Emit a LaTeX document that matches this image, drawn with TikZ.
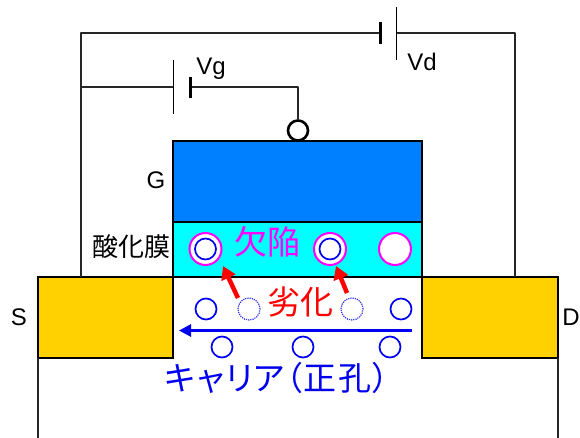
\documentclass[tikz,border=0pt]{standalone}
\usepackage{fontspec}
\setmainfont{Liberation Sans}
\newfontfamily\cjk{Noto Sans CJK JP}
\newfontfamily\cjkp[RawFeature=+palt,LetterSpace=4]{Noto Sans CJK JP}
\usetikzlibrary{arrows.meta}
\definecolor{gateblue}{RGB}{0,128,255}
\definecolor{padgold}{RGB}{255,209,0}
\definecolor{holeblue}{RGB}{0,0,240}
\definecolor{defectmag}{RGB}{255,0,255}
\definecolor{oxidecyan}{RGB}{0,255,255}
\definecolor{hotred}{RGB}{255,0,0}
\tikzset{
  wire/.style={draw=black!85,line width=1.7pt,line join=round},
  region/.style={draw=black,line width=1.7pt,outer sep=0pt,inner sep=0pt,anchor=north west},
  hole/.style={circle,draw=holeblue,line width=1.7pt,minimum size=21pt,inner sep=0pt,fill=white},
  lost/.style={circle,draw=holeblue!80,line width=1.2pt,densely dotted,minimum size=22pt,inner sep=0pt,fill=white},
  defect/.style={circle,draw=defectmag,line width=2pt,minimum size=32pt,inner sep=0pt,fill=white},
  lab/.style={font=\fontsize{24}{24}\selectfont,inner sep=0pt,text=black},
  jp/.style={font=\cjk\fontsize{#1}{#1}\selectfont,inner sep=0pt},
  jpp/.style={font=\cjkp\fontsize{#1}{#1}\selectfont,inner sep=0pt},
  redarrow/.style={draw=hotred,line width=4.5pt,-{Triangle[length=13pt,width=15pt]}},
}
\begin{document}
\begin{tikzpicture}[x=1pt,y=-1pt]
\useasboundingbox (0,0) rectangle (580,438);
% device regions
\node[region,fill=gateblue,minimum width=249pt,minimum height=81pt] (gate) at (173,141) {};
\node[region,fill=oxidecyan,minimum width=249pt,minimum height=55pt] (oxide) at (173,222) {};
\node[region,fill=padgold,minimum width=135pt,minimum height=81pt] (source) at (38,277) {};
\node[region,fill=padgold,minimum width=136pt,minimum height=81pt] (drain) at (422,277) {};
\coordinate (sb) at (38,438);
\coordinate (db) at (558,438);
\draw[wire] (source.south west) -- (sb);
\draw[wire] (drain.south east) -- (db);
% circuit
\coordinate (vdshort) at (380,33);
\coordinate (vdlong) at (396,33);
\coordinate (vgshort) at (190,87);
\coordinate (vglong) at (173,87);
\coordinate (sw) at (81,277);
\coordinate (dw) at (515,277);
\coordinate (tl) at (81,33);
\coordinate (tr) at (515,33);
\coordinate (ml) at (81,87);
\coordinate (gc) at (298,87);
\node[circle,draw=black,line width=2.6pt,fill=white,minimum size=20pt,inner sep=0pt] (term) at (298,130.5) {};
\draw[wire] (sw) -- (tl) -- (vdshort);
\draw[wire] (vdlong) -- (tr) -- (dw);
\draw[wire] (ml) -- (vglong);
\draw[wire] (vgshort) -- (gc) -- (term);
\draw[draw=black,line width=1pt] (396,7) -- (396,60);
\draw[draw=black,line width=3pt] (380,22) -- (380,44);
\draw[draw=black,line width=1pt] (173,60) -- (173,114);
\draw[draw=black,line width=3pt] (190,77) -- (190,98);
% defects
\node[defect] (d1) at (205.5,249) {};
\node[defect] (d2) at (330,249) {};
\node[defect] (d3) at (395,249) {};
\node[hole] (h1) at (205.5,249) {};
\node[hole] (h2) at (330,249) {};
% holes
\node[hole] (c1) at (206,309) {};
\node[lost] (c2) at (249,309) {};
\node[lost] (c3) at (352,309) {};
\node[hole] (c4) at (401,309) {};
\node[hole] (b1) at (222,347) {};
\node[hole] (b2) at (303,347) {};
\node[hole] (b3) at (390,347) {};
% arrows
\coordinate (fs) at (412,330.5);
\coordinate (fe) at (179,330.5);
\draw[draw=holeblue,line width=2.8pt,-{Triangle[length=12pt,width=12pt]}] (fs) -- (fe);
\coordinate (e1) at (223,266);
\coordinate (e2) at (336,266);
\draw[redarrow] (238,298) -- (e1);
\draw[redarrow] (347,293) -- (e2);
% labels
\node[lab] (lg) at (156,180) {G};
\node[lab] (ls) at (19,317) {S};
\node[lab] (ld) at (571,317) {D};
\node[lab] (lvg) at (211,69) {Vg};
\node[lab] (lvd) at (422,62) {Vd};
\node[jp=26,text=black] (lox) at (131,247) {酸化膜};
\node[jp=33,text=defectmag] (ldef) at (267,242) {欠陥};
\node[jp=33,text=hotred] (ldeg) at (300,302) {劣化};
\node[jpp=33,text=holeblue] (lcar) at (277,378) {キャリア（正孔）};
\end{tikzpicture}
\end{document}
